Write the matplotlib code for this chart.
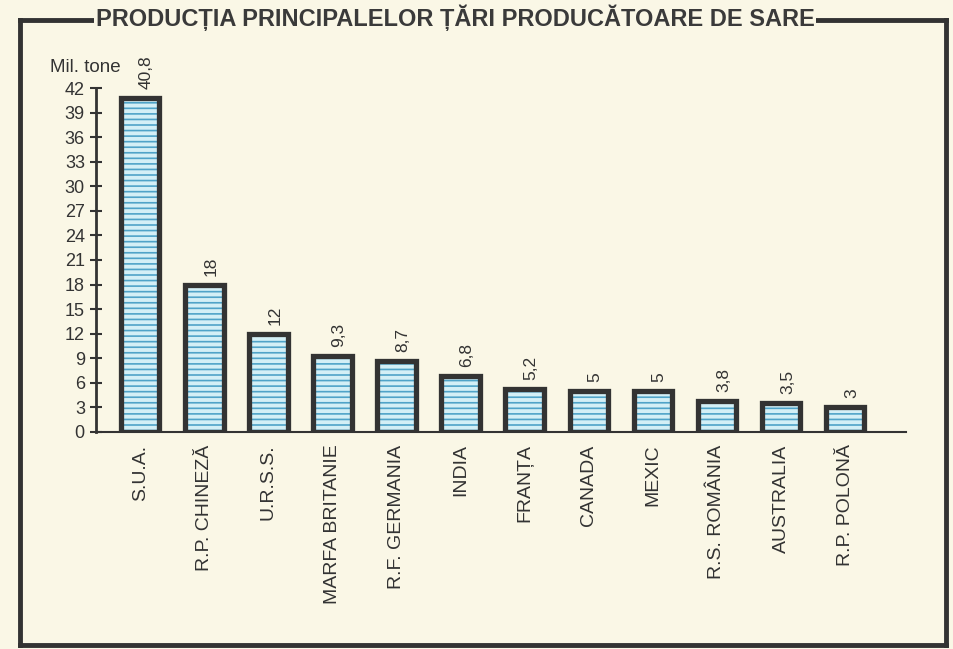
import matplotlib.pyplot as plt
from matplotlib.lines import Line2D
import numpy as np

# salt production, million tonnes
countries = ['S.U.A.', 'R.P. CHINEZĂ', 'U.R.S.S.', 'MARFA BRITANIE', 'R.F. GERMANIA',
             'INDIA', 'FRANȚA', 'CANADA', 'MEXIC', 'R.S. ROMÂNIA', 'AUSTRALIA', 'R.P. POLONĂ']
values = [40.8, 18, 12, 9.3, 8.7, 6.8, 5.2, 5, 5, 3.8, 3.5, 3]
value_labels = ['40,8', '18', '12', '9,3', '8,7', '6,8', '5,2', '5', '5', '3,8', '3,5', '3']
yticks = list(range(0, 43, 3))

bg = '#faf7e6'
dark = '#333333'
plt.rcParams['font.family'] = ['Liberation Sans', 'DejaVu Sans']
plt.rcParams['hatch.linewidth'] = 1.2

fig = plt.figure(figsize=(9.54, 6.49), dpi=100, facecolor=bg)
ax = fig.add_axes([0.1006, 0.3344, 0.8491, 0.5300])
ax.set_facecolor('none')

x = np.arange(len(values))
# filling with blue hatch, then the thick dark outline on top
ax.bar(x, values, width=0.6, color='#d3eff6', edgecolor='#4fa3c8', hatch='---', linewidth=0)
ax.bar(x, values, width=0.6, color='none', edgecolor=dark, linewidth=3.8)

for xi, v, lab in zip(x, values, value_labels):
    ax.text(xi + 0.1, v + 1.1, lab, rotation=90, ha='center', va='bottom',
            fontsize=12.5, color=dark)

ax.set_xlim(-0.69, 11.95)
ax.set_ylim(0, 42)
ax.set_yticks(yticks)
ax.set_yticklabels([str(t) for t in yticks], fontsize=13, color=dark)
ax.tick_params(axis='y', direction='inout', length=8, width=1.5, color=dark, pad=4)
ax.set_xticks(x)
ax.set_xticklabels(countries, rotation=90, fontsize=14, color=dark, va='top')
ax.tick_params(axis='x', length=0, pad=9)

for s in ['top', 'right']:
    ax.spines[s].set_visible(False)
ax.spines['left'].set_linewidth(2)
ax.spines['bottom'].set_linewidth(1.5)
ax.spines['left'].set_color(dark)
ax.spines['bottom'].set_color(dark)

fig.text(50 / 954, 1 - 68 / 649, 'Mil. tone', fontsize=13.5, color=dark, va='center')

# frame around the chart
L, R, T, B = 20 / 954, 946 / 954, 1 - 20 / 649, 1 - 645 / 649
for xs, ys in [([L, R], [T, T]), ([L, L], [T, B]), ([R, R], [T, B]), ([L, R], [B, B])]:
    fig.add_artist(Line2D(xs, ys, transform=fig.transFigure, color=dark, linewidth=3.5))

fig.text(455 / 954, 1 - 18 / 649, 'PRODUCȚIA PRINCIPALELOR ȚĂRI PRODUCĂTOARE DE SARE',
         ha='center', va='center', fontsize=17, fontweight='bold', color='#3a3a3a',
         family=['Liberation Sans Narrow', 'Liberation Sans'],
         bbox=dict(facecolor=bg, edgecolor='none', pad=1))

fig.savefig('out.png', dpi=100, facecolor=bg)
